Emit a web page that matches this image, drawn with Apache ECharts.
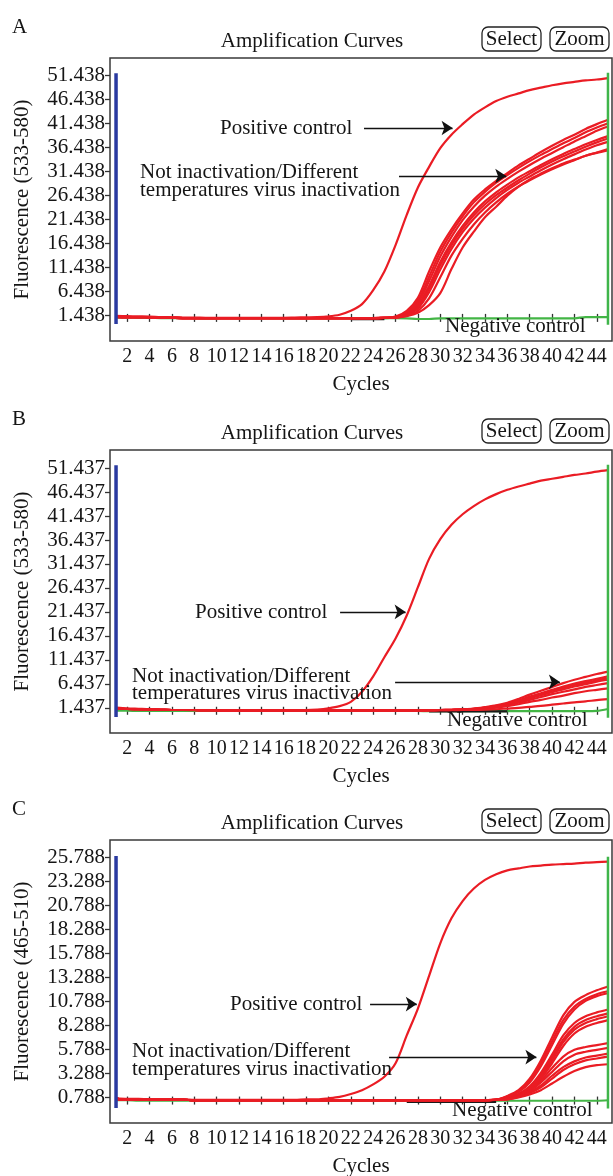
<!DOCTYPE html>
<html>
<head>
<meta charset="utf-8">
<script src="https://cdn.jsdelivr.net/npm/echarts@6/dist/echarts.min.js"></script>
<style>
  html, body { margin: 0; padding: 0; background: #fff; }
  #chart { width: 613px; height: 1176px; }
</style>
</head>
<body>
<div id="chart"></div>
<script>
// ---- data ----
const cycles = [1,2,3,4,5,6,7,8,9,10,11,12,13,14,15,16,17,18,19,20,21,22,23,24,25,26,27,28,29,30,31,32,33,34,35,36,37,38,39,40,41,42,43,44,45];
const xTicks = [2,4,6,8,10,12,14,16,18,20,22,24,26,28,30,32,34,36,38,40,42,44];

const yTicksA = [1.438,6.438,11.438,16.438,21.438,26.438,31.438,36.438,41.438,46.438,51.438];
const yTicksB = [1.437,6.437,11.437,16.437,21.437,26.437,31.437,36.437,41.437,46.437,51.437];
const yTicksC = [0.788,3.288,5.788,8.288,10.788,13.288,15.788,18.288,20.788,23.288,25.788];

// panel A
const posA = [1.25,1.2,1.15,1.1,1.0,0.95,0.9,0.9,0.85,0.85,0.85,0.85,0.85,0.85,0.85,0.85,0.9,0.95,1.0,1.15,1.5,2.3,3.7,6.6,10.5,16.0,22.3,28.0,32.3,36.2,39.0,41.2,43.2,44.7,46.0,46.9,47.6,48.3,48.8,49.3,49.7,50.0,50.3,50.5,50.8];
const baseSampleA = [1.05,1.0,1.0,0.95,0.9,0.85,0.8,0.8,0.8,0.8,0.8,0.8,0.8,0.8,0.8,0.8,0.8,0.8,0.8,0.8,0.8,0.8,0.8,0.8,0.85];
const riseA1 = [1.1,2.3,5.0,10.5,15.5,19.3,22.6,25.5,27.6,29.4,31.0,32.6,34.0,35.4,36.7,37.9,39.0,40.2,41.2,42.1];
const riseA2 = [1.0,2.0,4.4,9.4,14.6,18.6,22.0,24.9,27.1,29.0,30.6,32.1,33.5,34.8,36.0,37.2,38.3,39.5,40.5,41.4];
const riseA3 = [1.0,1.8,3.9,8.5,13.6,17.7,21.2,24.0,26.3,28.2,29.8,31.3,32.7,34.0,35.2,36.4,37.6,38.7,39.8,40.7];
const riseA4 = [0.95,1.6,3.4,7.5,12.5,16.6,20.0,22.8,25.1,27.0,28.6,30.1,31.4,32.7,33.9,35.0,36.0,37.0,37.9,38.7];
const riseA5 = [0.95,1.5,3.1,6.9,11.8,16.0,19.4,22.2,24.5,26.4,28.0,29.5,30.9,32.2,33.4,34.5,35.5,36.5,37.4,38.2];
const riseA6 = [0.9,1.4,2.8,6.2,10.9,15.2,18.7,21.5,23.8,25.8,27.5,29.0,30.3,31.6,32.8,33.9,34.9,35.9,36.8,37.5];
const riseA7 = [0.9,1.3,2.3,4.9,9.3,13.8,17.3,20.3,22.8,24.9,26.7,28.2,29.5,30.7,31.8,32.8,33.7,34.6,35.3,36.0];
const riseA8 = [0.9,1.2,1.9,3.5,6.0,11.0,15.5,18.8,21.8,24.0,26.3,28.2,29.7,30.9,32.0,33.0,33.8,34.6,35.2,35.7];
const negA = [0.9,0.9,0.85,0.85,0.8,0.8,0.8,0.75,0.7,0.7,0.75,0.75,0.75,0.75,0.75,0.75,0.75,0.75,0.75,0.75,0.75,0.75,0.75,0.75,0.75,0.8,0.75,0.6,0.6,0.75,0.75,0.75,0.75,0.75,0.75,0.75,0.75,0.75,0.75,0.75,0.75,0.75,1.0,1.0,1.0];
const blankA = [null,null,null,null,null,null,null,null,null,null,null,null,null,null,null,null,null,null,null,null,null,0.6,0.6,0.6,0.6,null,null,null,null,null,null,null,null,null,null,null,null,null,null,null,null,null,null,null,null];
const blueSpanA = [-0.45, 51.8];
const greenSpanA = [-0.6, 51.9];

// panel B
const posB = [1.5,1.35,1.25,1.15,1.1,1.0,1.0,0.95,0.9,0.9,0.85,0.9,0.9,0.95,0.95,0.95,1.0,1.0,1.1,1.35,1.8,2.7,4.8,8.0,12.0,15.9,20.7,26.6,32.5,36.6,39.6,41.8,43.5,44.9,46.0,46.9,47.6,48.2,48.8,49.2,49.6,50.0,50.3,50.7,51.0];
const baseSampleB = [1.3,1.2,1.15,1.1,1.05,1.0,1.0,1.0,0.95,0.95,0.9,0.9,0.9,0.9,0.9,0.9,0.9,0.9,0.9,0.9,0.9,0.9,0.9,0.9,0.9,0.9,0.9,0.9,0.95];
const riseB1 = [1.0,1.05,1.15,1.3,1.6,1.95,2.5,3.3,4.2,5.0,5.8,6.6,7.3,7.9,8.5,9.0];
const riseB2 = [1.0,1.05,1.1,1.25,1.5,1.85,2.3,3.0,3.8,4.5,5.2,5.9,6.5,7.0,7.5,8.0];
const riseB3 = [1.0,1.05,1.1,1.25,1.5,1.8,2.25,2.9,3.6,4.3,5.0,5.6,6.2,6.7,7.2,7.6];
const riseB4 = [1.0,1.0,1.1,1.2,1.45,1.75,2.15,2.75,3.4,4.1,4.7,5.3,5.9,6.4,6.9,7.3];
const riseB5 = [1.0,1.0,1.05,1.2,1.4,1.65,2.0,2.5,3.1,3.7,4.3,4.8,5.3,5.8,6.2,6.6];
const riseB6 = [0.95,1.0,1.05,1.15,1.3,1.5,1.8,2.2,2.7,3.1,3.6,4.0,4.5,4.9,5.2,5.5];
const riseB7 = [0.95,0.95,1.0,1.0,1.05,1.15,1.3,1.45,1.65,1.85,2.1,2.35,2.6,2.8,3.05,3.25];
const negB = [0.85,0.85,0.8,0.8,0.8,0.8,0.8,0.8,0.8,0.8,0.8,0.8,0.8,0.8,0.8,0.8,0.8,0.8,0.8,0.8,0.8,0.8,0.8,0.8,0.8,0.8,0.8,0.8,0.75,0.75,0.75,0.75,0.75,0.75,0.75,0.75,0.75,0.75,0.75,0.75,0.75,0.75,0.75,0.8,1.2];
const blankB = [null,null,null,null,null,null,null,null,null,null,null,null,null,null,null,null,null,null,null,null,null,null,null,null,null,null,null,null,0.7,0.7,0.7,0.7,0.7,0.7,0.7,0.7,null,null,null,null,null,null,null,null,null];
const blueSpanB = [-0.45, 52.0];
const greenSpanB = [-0.6, 52.1];

// panel C
const posC = [0.65,0.6,0.6,0.55,0.55,0.55,0.55,0.5,0.5,0.5,0.5,0.5,0.5,0.5,0.5,0.5,0.5,0.55,0.55,0.65,0.8,1.1,1.5,2.1,2.9,4.3,7.2,10.0,13.4,16.8,19.4,21.2,22.5,23.4,24.0,24.4,24.6,24.8,24.9,25.0,25.05,25.1,25.2,25.25,25.3];
const baseSampleC = [0.6,0.55,0.55,0.5,0.5,0.5,0.5,0.45,0.45,0.45,0.45,0.45,0.45,0.45,0.45,0.45,0.45,0.45,0.45,0.45,0.45,0.45,0.45,0.45,0.45,0.45,0.45,0.45,0.45,0.45,0.45,0.45,0.45,0.45,0.5];
const riseC1 = [0.9,1.5,2.7,4.6,7.0,9.3,10.7,11.4,11.9,12.3];
const riseC2 = [0.85,1.4,2.5,4.3,6.6,8.8,10.2,11.0,11.5,11.8];
const riseC3 = [0.8,1.3,2.3,4.0,6.2,8.4,9.9,10.8,11.3,11.6];
const riseC4 = [0.7,1.1,1.9,3.3,5.2,7.2,8.5,9.2,9.6,9.9];
const riseC5 = [0.7,1.05,1.8,3.1,4.9,6.8,8.1,8.8,9.2,9.5];
const riseC6 = [0.7,1.0,1.7,2.9,4.6,6.5,7.8,8.5,8.9,9.2];
const riseC7 = [0.65,1.0,1.6,2.7,4.3,6.1,7.4,8.1,8.5,8.8];
const riseC8 = [0.65,0.95,1.5,2.5,3.8,5.0,5.7,6.0,6.2,6.4];
const riseC9 = [0.6,0.9,1.4,2.3,3.4,4.5,5.2,5.5,5.7,5.9];
const riseC10 = [0.6,0.85,1.3,2.0,3.0,3.9,4.5,4.9,5.1,5.3];
const riseC11 = [0.55,0.8,1.2,1.8,2.7,3.6,4.2,4.6,4.8,5.0];
const riseC12 = [0.55,0.75,1.05,1.5,2.2,2.9,3.5,3.9,4.1,4.2];
const negC = [0.45,0.45,0.4,0.4,0.4,0.4,0.4,0.4,0.4,0.4,0.4,0.4,0.4,0.4,0.4,0.4,0.4,0.4,0.4,0.4,0.4,0.4,0.4,0.4,0.4,0.4,0.4,0.4,0.4,0.4,0.4,0.4,0.4,0.4,0.4,0.4,0.4,0.4,0.4,0.4,0.4,0.4,0.4,0.4,0.45];
const blankC = [null,null,null,null,null,null,null,null,null,null,null,null,null,null,null,null,null,null,null,null,null,null,null,null,null,null,0.3,0.3,0.3,0.3,0.3,0.3,0.3,0.3,0.3,null,null,null,null,null,null,null,null,null,null];
const blueSpanC = [-0.35, 25.9];
const greenSpanC = [-0.4, 25.82];

// ---- styling ----
const FONT = '"Liberation Serif", "Times New Roman", serif';
const RED = '#ea1c24';
const TEXT = '#151515';

const panels = [
  { top: 58, yMin: -3.98, yMax: 54.98, yTicks: yTicksA, yName: 'Fluorescence (533-580)',
    pos: posA, base: baseSampleA, rises: [riseA1,riseA2,riseA3,riseA4,riseA5,riseA6,riseA7,riseA8],
    neg: negA, blank: blankA, blue: blueSpanA, green: greenSpanA,
    arrows: [[[23.18, 40.4], [31.1, 40.4]], [[26.31, 30.4], [35.9, 30.4]]] },
  { top: 450, yMin: -3.8, yMax: 55.2, yTicks: yTicksB, yName: 'Fluorescence (533-580)',
    pos: posB, base: baseSampleB, rises: [riseB1,riseB2,riseB3,riseB4,riseB5,riseB6,riseB7],
    neg: negB, blank: blankB, blue: blueSpanB, green: greenSpanB,
    arrows: [[[21.04, 21.44], [26.9, 21.44]], [[25.96, 6.85], [40.7, 6.85]]] },
  { top: 840, yMin: -1.92, yMax: 27.56, yTicks: yTicksC, yName: 'Fluorescence (465-510)',
    pos: posC, base: baseSampleC, rises: [riseC1,riseC2,riseC3,riseC4,riseC5,riseC6,riseC7,riseC8,riseC9,riseC10,riseC11,riseC12],
    neg: negC, blank: blankC, blue: blueSpanC, green: greenSpanC,
    arrows: [[[23.72, 10.47], [27.9, 10.47]], [[25.42, 4.95], [38.6, 4.95]]] }
];

function pairs(values) {
  return values.map((v, i) => [cycles[i], v]);
}

const grid = [], xAxis = [], yAxis = [], series = [];

panels.forEach((p, i) => {
  grid.push({ left: 110, right: 1, top: p.top, height: 283, show: true,
    borderColor: '#3a3a3a', borderWidth: 1.5, backgroundColor: '#fff', outerBoundsMode: 'none' });
  xAxis.push({
    type: 'value', gridIndex: i, min: 0.46, max: 45.36,
    name: 'Cycles', nameLocation: 'middle', nameGap: 33,
    nameTextStyle: { fontFamily: FONT, fontSize: 21, color: TEXT },
    axisLine: { show: false },
    axisTick: { show: true, inside: true, length: 8, customValues: xTicks, lineStyle: { color: '#333', width: 1.3 } },
    axisLabel: { customValues: xTicks, margin: 6, fontFamily: FONT, fontSize: 20, color: TEXT },
    splitLine: { show: false }
  });
  yAxis.push({
    type: 'value', gridIndex: i, min: p.yMin, max: p.yMax,
    name: p.yName, nameLocation: 'middle', nameGap: 77,
    nameTextStyle: { fontFamily: FONT, fontSize: 21, color: TEXT },
    axisLine: { show: false },
    axisTick: { show: true, length: 5, customValues: p.yTicks, lineStyle: { color: '#333', width: 1.3 } },
    axisLabel: { customValues: p.yTicks, margin: 5, fontFamily: FONT, fontSize: 21, color: TEXT,
      formatter: v => v.toFixed(3) },
    splitLine: { show: false }
  });

  const common = { type: 'line', xAxisIndex: i, yAxisIndex: i, showSymbol: false, smooth: 0.3,
    silent: true, emphasis: { disabled: true } };

  series.push(Object.assign({}, common, { name: 'Negative control', z: 2,
    data: pairs(p.neg), lineStyle: { color: '#43b545', width: 2.2 } }));
  series.push(Object.assign({}, common, { z: 2, smooth: false, connectNulls: false,
    data: pairs(p.blank), lineStyle: { color: '#1a1a1a', width: 2.4 } }));

  p.rises.forEach(r => {
    series.push(Object.assign({}, common, { z: 3,
      data: pairs(p.base.concat(r)), lineStyle: { color: RED, width: 2.2 } }));
  });

  series.push(Object.assign({}, common, { name: 'Positive control', z: 4,
    data: pairs(p.pos), lineStyle: { color: RED, width: 2.2 },
    markLine: {
      silent: true, symbol: ['none', 'arrow'], symbolSize: 11,
      label: { show: false },
      lineStyle: { color: '#111', width: 1.3, type: 'solid' },
      data: p.arrows.map(a => [{ coord: a[0] }, { coord: a[1] }])
    } }));

  series.push(Object.assign({}, common, { z: 5, smooth: false,
    data: [[1, p.blue[0]], [1, p.blue[1]]], lineStyle: { color: '#2a3aa0', width: 3.5 } }));
  series.push(Object.assign({}, common, { z: 5, smooth: false,
    data: [[45, p.green[0]], [45, p.green[1]]], lineStyle: { color: '#3fb54a', width: 2.5 } }));
});

// ---- texts, buttons, annotation labels ----
function txt(text, x, y, align) {
  return { type: 'text', z: 100, style: { text: text, x: x, y: y, fill: TEXT,
    font: '21px ' + FONT, textAlign: align || 'left', textVerticalAlign: 'middle' } };
}
function button(label, x, y, w) {
  return { type: 'group', z: 100, children: [
    { type: 'rect', shape: { x: x, y: y, width: w, height: 24, r: 6 },
      style: { fill: '#fff', stroke: '#222', lineWidth: 1.3 } },
    txt(label, x + w / 2, y + 12.5, 'center')
  ] };
}

const offsets = [0, 392, 782];
const letters = ['A', 'B', 'C'];
const graphic = [];
offsets.forEach((o, i) => {
  graphic.push(txt(letters[i], 12, 27 + o));
  graphic.push(txt('Amplification Curves', 312, 41 + o, 'center'));
  graphic.push(button('Select', 482, 27 + o, 59));
  graphic.push(button('Zoom', 550, 27 + o, 59));
});
graphic.push(txt('Positive control', 220, 128));
graphic.push(txt('Not inactivation/Different', 140, 172));
graphic.push(txt('temperatures virus inactivation', 140, 190));
graphic.push(txt('Negative control', 445, 326));

graphic.push(txt('Positive control', 195, 612));
graphic.push(txt('Not inactivation/Different', 132, 676));
graphic.push(txt('temperatures virus inactivation', 132, 693));
graphic.push(txt('Negative control', 447, 720));

graphic.push(txt('Positive control', 230, 1004));
graphic.push(txt('Not inactivation/Different', 132, 1051));
graphic.push(txt('temperatures virus inactivation', 132, 1069));
graphic.push(txt('Negative control', 452, 1110));

const chart = echarts.init(document.getElementById('chart'));
chart.setOption({
  animation: false,
  backgroundColor: '#fff',
  grid: grid,
  xAxis: xAxis,
  yAxis: yAxis,
  series: series,
  graphic: graphic
});
</script>
</body>
</html>
